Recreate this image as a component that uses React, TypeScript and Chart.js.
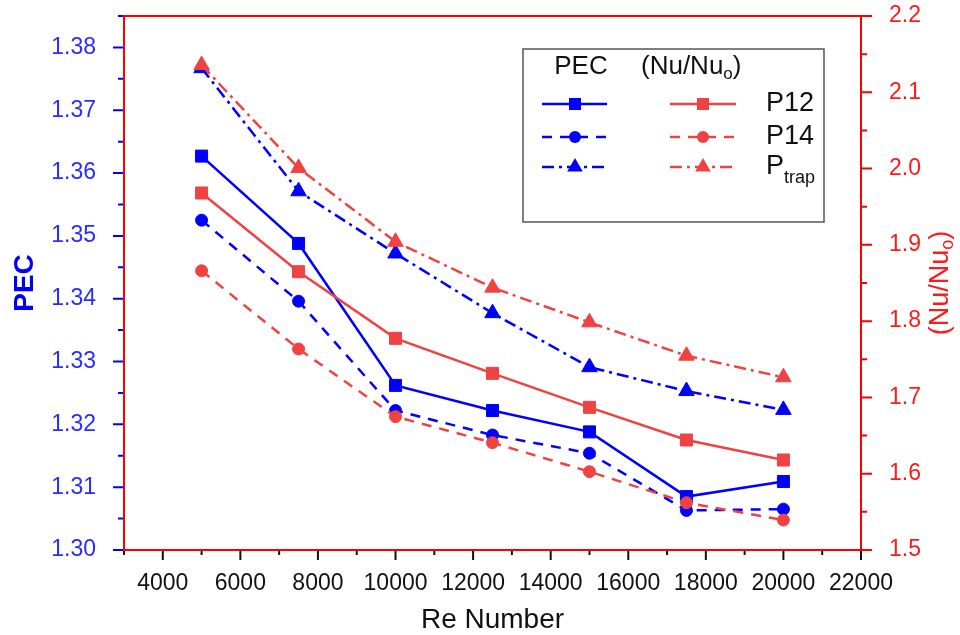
import React, { useEffect, useRef } from 'react';
import { Chart, registerables } from 'chart.js';

Chart.register(...registerables);

// ---- data ----
const reNumbers = [5000, 7500, 10000, 12500, 15000, 17500, 20000];
const pecP12 = [1.3627, 1.3488, 1.3262, 1.3222, 1.3188, 1.3085, 1.3109];
const pecP14 = [1.3525, 1.3396, 1.3222, 1.3183, 1.3154, 1.3063, 1.3065];
const pecPtrap = [1.3767, 1.3571, 1.3472, 1.3377, 1.3291, 1.3253, 1.3223];
const nuP12 = [1.968, 1.8648, 1.7775, 1.7316, 1.687, 1.6442, 1.618];
const nuP14 = [1.866, 1.7635, 1.6748, 1.6407, 1.6027, 1.562, 1.5393];
const nuPtrap = [2.1357, 2.0007, 1.904, 1.8439, 1.7984, 1.7547, 1.7264];

// ---- ticks ----
const xTicks = [4000, 6000, 8000, 10000, 12000, 14000, 16000, 18000, 20000, 22000];
const xMinorTicks = [3000, 5000, 7000, 9000, 11000, 13000, 15000, 17000, 19000, 21000];
const pecTicks = [1.3, 1.31, 1.32, 1.33, 1.34, 1.35, 1.36, 1.37, 1.38];
const pecMinorTicks = [1.305, 1.315, 1.325, 1.335, 1.345, 1.355, 1.365, 1.375, 1.385];
const nuTicks = [1.5, 1.6, 1.7, 1.8, 1.9, 2.0, 2.1, 2.2];
const nuMinorTicks = [1.55, 1.65, 1.75, 1.85, 1.95, 2.05, 2.15];

const BLUE = '#0000FF';
const RED = '#EF4343';
const AXIS_RED = '#FF0000';
const FONT = '"Liberation Sans", Arial, sans-serif';

type Part = { text: string; size: number; dy: number; bold?: boolean };

function drawRich(ctx: CanvasRenderingContext2D, parts: Part[], x: number, y: number, rot: number, color: string, align: 'center' | 'left') {
  ctx.save();
  ctx.translate(x, y);
  ctx.rotate(rot);
  ctx.fillStyle = color;
  ctx.textBaseline = 'middle';
  ctx.textAlign = 'left';
  let total = 0;
  const widths = parts.map((p) => {
    ctx.font = `${p.bold ? 'bold ' : ''}${p.size}px ${FONT}`;
    const w = ctx.measureText(p.text).width;
    total += w;
    return w;
  });
  let cx = align === 'center' ? -total / 2 : 0;
  parts.forEach((p, i) => {
    ctx.font = `${p.bold ? 'bold ' : ''}${p.size}px ${FONT}`;
    ctx.fillText(p.text, cx, p.dy);
    cx += widths[i];
  });
  ctx.restore();
}

function drawMarker(ctx: CanvasRenderingContext2D, style: string, x: number, y: number, r: number, color: string) {
  ctx.save();
  ctx.fillStyle = color;
  ctx.beginPath();
  if (style === 'rect') {
    const s = Math.SQRT1_2 * r;
    ctx.rect(x - s, y - s, 2 * s, 2 * s);
  } else if (style === 'circle') {
    ctx.arc(x, y, r, 0, Math.PI * 2);
  } else {
    const a = (2 * Math.PI) / 3;
    ctx.moveTo(x, y - r);
    ctx.lineTo(x + Math.sin(a) * r, y - Math.cos(a) * r);
    ctx.lineTo(x + Math.sin(2 * a) * r, y - Math.cos(2 * a) * r);
    ctx.closePath();
  }
  ctx.fill();
  ctx.restore();
}

const decorPlugin = {
  id: 'decor',
  afterDatasetsDraw(chart: any) {
    const ctx: CanvasRenderingContext2D = chart.ctx;
    const { left, right, top, bottom } = chart.chartArea;
    const xs = chart.scales.x;
    const yl = chart.scales.y;
    const yr = chart.scales.y1;
    ctx.save();
    ctx.lineWidth = 2;
    // ticks bottom
    ctx.strokeStyle = '#111';
    ctx.beginPath();
    xTicks.forEach((v) => { const p = xs.getPixelForValue(v); ctx.moveTo(p, bottom); ctx.lineTo(p, bottom + 10); });
    xMinorTicks.forEach((v) => { const p = xs.getPixelForValue(v); ctx.moveTo(p, bottom); ctx.lineTo(p, bottom + 5); });
    ctx.stroke();
    // ticks left
    ctx.strokeStyle = BLUE;
    ctx.beginPath();
    pecTicks.forEach((v) => { const p = yl.getPixelForValue(v); ctx.moveTo(left, p); ctx.lineTo(left - 11, p); });
    pecMinorTicks.forEach((v) => { const p = yl.getPixelForValue(v); ctx.moveTo(left, p); ctx.lineTo(left - 6, p); });
    ctx.stroke();
    // ticks right
    ctx.strokeStyle = AXIS_RED;
    ctx.beginPath();
    nuTicks.forEach((v) => { const p = yr.getPixelForValue(v); ctx.moveTo(right, p); ctx.lineTo(right + 11, p); });
    nuMinorTicks.forEach((v) => { const p = yr.getPixelForValue(v); ctx.moveTo(right, p); ctx.lineTo(right + 6, p); });
    ctx.stroke();
    // frame
    ctx.strokeStyle = AXIS_RED;
    ctx.strokeRect(left, top, right - left, bottom - top);
    ctx.restore();

    // axis titles
    drawRich(ctx, [{ text: 'Re Number', size: 28, dy: 0 }], (left + right) / 2, 620, 0, '#111', 'center');
    drawRich(ctx, [{ text: 'PEC', size: 28, dy: 0, bold: true }], 25, (top + bottom) / 2, -Math.PI / 2, BLUE, 'center');
    drawRich(ctx, [
      { text: '(Nu/Nu', size: 27, dy: 0 },
      { text: 'o', size: 18, dy: 7 },
      { text: ')', size: 27, dy: 0 },
    ], 941, (top + bottom) / 2, -Math.PI / 2, '#FF1A1A', 'center');

    // legend box
    ctx.save();
    ctx.fillStyle = '#fff';
    ctx.fillRect(523, 49, 301, 173);
    ctx.strokeStyle = '#555';
    ctx.lineWidth = 1.5;
    ctx.strokeRect(523, 49, 301, 173);
    ctx.restore();
    drawRich(ctx, [{ text: 'PEC', size: 26, dy: 0 }], 581, 67, 0, '#111', 'center');
    drawRich(ctx, [
      { text: '(Nu/Nu', size: 26, dy: 0 },
      { text: 'o', size: 17, dy: 7 },
      { text: ')', size: 26, dy: 0 },
    ], 641, 67, 0, '#111', 'left');
    const rows = [104, 137, 167];
    const ds = chart.data.datasets;
    // datasets order: red P12, red P14, red Ptrap, blue P12, blue P14, blue Ptrap
    const rowLabels: Part[][] = [
      [{ text: 'P12', size: 27, dy: 0 }],
      [{ text: 'P14', size: 27, dy: 0 }],
      [{ text: 'P', size: 27, dy: 0 }, { text: 'trap', size: 18, dy: 11 }],
    ];
    rows.forEach((ry, i) => {
      const pairs: [any, number, number, number][] = [[ds[3 + i], 542, 607, 575], [ds[i], 670, 736, 703]];
      pairs.forEach(([d, x0, x1, xm]) => {
        ctx.save();
        ctx.strokeStyle = d.borderColor;
        ctx.lineWidth = d.borderWidth;
        ctx.setLineDash(d.borderDash || []);
        ctx.beginPath();
        ctx.moveTo(x0, ry);
        ctx.lineTo(x1, ry);
        ctx.stroke();
        ctx.restore();
        drawMarker(ctx, d.pointStyle, xm, ry, d.pointRadius, d.borderColor);
      });
      drawRich(ctx, rowLabels[i], 766, ry, 0, '#111', 'left');
    });
  },
};

function mk(label: string, ys: number[], color: string, axis: string, style: string, radius: number, dash: number[], order: number) {
  return {
    label,
    data: reNumbers.map((x, i) => ({ x, y: ys[i] })),
    borderColor: color,
    backgroundColor: color,
    pointBackgroundColor: color,
    pointBorderColor: color,
    pointBorderWidth: 1,
    yAxisID: axis,
    pointStyle: style,
    pointRadius: radius,
    borderWidth: 2.5,
    borderDash: dash,
    order,
    tension: 0,
    fill: false,
  };
}

const noPad = (s: any) => { s.paddingTop = 0; s.paddingBottom = 0; s.paddingLeft = 0; s.paddingRight = 0; };

export default function App() {
  const ref = useRef<HTMLCanvasElement>(null);
  useEffect(() => {
    const chart = new Chart(ref.current as HTMLCanvasElement, {
      type: 'line',
      data: {
        datasets: [
          mk('(Nu/Nuo) P12', nuP12, RED, 'y1', 'rect', 8.5, [], 0),
          mk('(Nu/Nuo) P14', nuP14, RED, 'y1', 'circle', 6, [10, 8], 0),
          mk('(Nu/Nuo) Ptrap', nuPtrap, RED, 'y1', 'triangle', 9, [12, 5, 3, 5], 0),
          mk('PEC P12', pecP12, BLUE, 'y', 'rect', 8.5, [], 1),
          mk('PEC P14', pecP14, BLUE, 'y', 'circle', 6, [10, 8], 1),
          mk('PEC Ptrap', pecPtrap, BLUE, 'y', 'triangle', 9, [12, 5, 3, 5], 1),
        ] as any,
      },
      options: {
        responsive: false,
        animation: false,
        layout: { padding: { top: 16, left: 0, right: 0, bottom: 0 } },
        plugins: { legend: { display: false }, tooltip: { enabled: false } },
        scales: {
          x: {
            type: 'linear',
            min: 3000,
            max: 22000,
            grid: { display: false },
            border: { display: false },
            afterBuildTicks: (s: any) => { s.ticks = xTicks.map((v) => ({ value: v })); },
            afterFit: (s: any) => { s.height = 85; noPad(s); },
            ticks: {
              autoSkip: false,
              maxRotation: 0,
              padding: 12,
              color: '#111',
              font: { family: FONT, size: 23 },
              callback: (v: any) => String(v),
            },
          },
          y: {
            type: 'linear',
            position: 'left',
            min: 1.3,
            max: 1.385,
            grid: { display: false },
            border: { display: false },
            afterBuildTicks: (s: any) => { s.ticks = pecTicks.map((v) => ({ value: v })); },
            afterFit: (s: any) => { s.width = 124; noPad(s); },
            ticks: {
              padding: 20,
              color: '#2B2BFF',
              font: { family: FONT, size: 23 },
              callback: (v: any) => Number(v).toFixed(2),
            },
          },
          y1: {
            type: 'linear',
            position: 'right',
            min: 1.5,
            max: 2.2,
            grid: { display: false },
            border: { display: false },
            afterBuildTicks: (s: any) => { s.ticks = nuTicks.map((v) => ({ value: v })); },
            afterFit: (s: any) => { s.width = 99; noPad(s); },
            ticks: {
              padding: 20,
              color: '#FF1A1A',
              font: { family: FONT, size: 23 },
              callback: (v: any) => Number(v).toFixed(1),
            },
          },
        },
      },
      plugins: [decorPlugin],
    });
    return () => chart.destroy();
  }, []);
  return (
    <div style={{ position: 'absolute', left: 0, top: 0, width: 960, height: 635, background: '#fff' }}>
      <canvas ref={ref} width={960} height={635} style={{ display: 'block', width: 960, height: 635 }} />
    </div>
  );
}
